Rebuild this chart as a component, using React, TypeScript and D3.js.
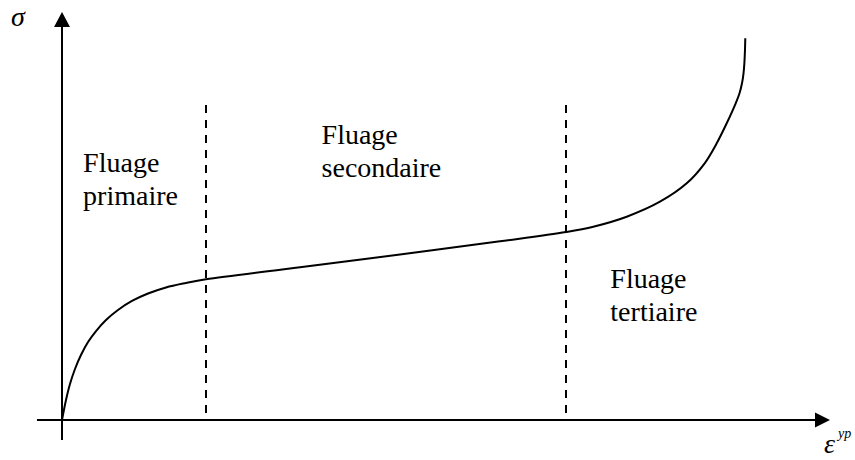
import React from "react";
import * as d3 from "d3";

// Creep curve (arbitrary units: strain 0..100, stress 0..100)
const strain = [0, 0.52, 1.04, 1.69, 2.47, 3.39, 4.43, 5.73, 7.29, 9.11, 11.2, 13.54, 16.15, 18.75, 30.99, 44.01, 57.03, 65.63, 69.18, 73.53, 77.86, 81.34, 83.68, 85.25, 86.55, 87.72, 88.22, 88.54, 88.74, 88.85, 88.93, 88.97];
const stress = [0, 4.9, 8.82, 12.5, 15.93, 19.12, 21.81, 24.51, 26.96, 29.17, 31.0, 32.48, 33.58, 34.49, 37.43, 40.56, 43.8, 46.08, 47.38, 49.83, 53.5, 58.01, 62.92, 67.82, 72.72, 77.62, 80.07, 82.52, 84.98, 87.43, 90.69, 93.55];

// Stage boundaries (strain) and dashed line top (stress)
const boundaries = [18.75, 65.6];
const boundaryTop = 77.2;

// Stage labels: [line1, line2], anchor in data units
const stageLines = [
  ["Fluage", "primaire"],
  ["Fluage", "secondaire"],
  ["Fluage", "tertiaire"],
];
const stageX = [2.75, 33.8, 71.4];
const stageY = [60.8, 67.7, 32.4];

const W = 855;
const H = 460;

export default function App() {
  const x = d3.scaleLinear().domain([0, 100]).range([62, 830]);
  const y = d3.scaleLinear().domain([0, 100]).range([420, 12]);

  const pts: [number, number][] = strain.map((s, i) => [s, stress[i]]);
  const line = d3
    .line<[number, number]>()
    .x((d) => x(d[0]))
    .y((d) => y(d[1]))
    .curve(d3.curveCatmullRom.alpha(0.5));

  const serif = "'Liberation Serif', 'Times New Roman', serif";
  const x0 = x(0);
  const y0 = y(0);
  const xEnd = x(100);
  const yEnd = y(100);

  return (
    <svg
      width={W}
      height={H}
      style={{ position: "absolute", left: 0, top: 0, background: "#fff" }}
      fontFamily={serif}
    >
      {/* y axis */}
      <line x1={x0} x2={x0} y1={y(-4.9)} y2={yEnd + 14} stroke="#000" strokeWidth={2} />
      <polygon points={`${x0},${yEnd} ${x0 - 8},${yEnd + 15} ${x0 + 8},${yEnd + 15}`} fill="#000" />
      {/* x axis */}
      <line x1={x(-3.26)} x2={xEnd - 14} y1={y0} y2={y0} stroke="#000" strokeWidth={2} />
      <polygon points={`${xEnd},${y0} ${xEnd - 15},${y0 - 7.5} ${xEnd - 15},${y0 + 7.5}`} fill="#000" />

      {/* dashed boundaries */}
      {boundaries.map((b, i) => (
        <line
          key={i}
          x1={Math.round(x(b))}
          x2={Math.round(x(b))}
          y1={y(boundaryTop)}
          y2={y0}
          stroke="#000"
          strokeWidth={2}
          strokeDasharray="8,7"
        />
      ))}

      {/* curve */}
      <path d={line(pts) || ""} fill="none" stroke="#000" strokeWidth={2} />

      {/* stage labels */}
      {stageLines.map((ls, i) => (
        <text key={i} x={x(stageX[i])} y={y(stageY[i])} fontSize={28} fill="#000">
          {ls.map((t, j) => (
            <tspan key={j} x={x(stageX[i])} dy={j === 0 ? 0 : 33.5}>
              {t}
            </tspan>
          ))}
        </text>
      ))}

      {/* axis labels */}
      <text x={11} y={26} fontSize={28} fontStyle="italic" fill="#000">σ</text>
      <text x={824} y={453} fontSize={28} fontStyle="italic" fill="#000">
        ε
      </text>
      <text x={838} y={438} fontSize={14} fontStyle="italic" fill="#000">yp</text>
    </svg>
  );
}
